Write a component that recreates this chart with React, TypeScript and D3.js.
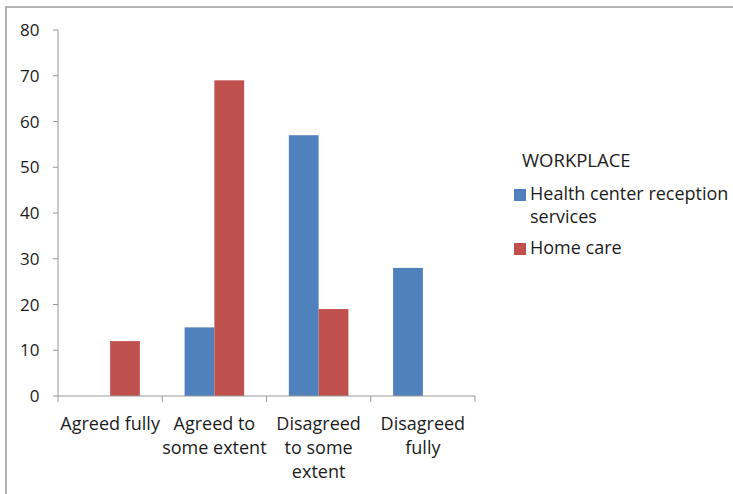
import React from "react";
import * as d3 from "d3";

const categories: string[][] = [
  ["Agreed fully"],
  ["Agreed to", "some extent"],
  ["Disagreed", "to some", "extent"],
  ["Disagreed", "fully"],
];
const legendTitle = "WORKPLACE";
const seriesLabels: string[][] = [["Health center reception", "services"], ["Home care"]];
const healthCenter = [0, 15, 57, 28];
const homeCare = [12, 69, 19, 0];
const yTicks = [0, 10, 20, 30, 40, 50, 60, 70, 80];
const colors = ["#4f81bd", "#c0504d"];

const W = 733;
const H = 494;
const FONT = "'Open Sans', sans-serif";
const TEXT = "#1c1c1c";

export default function App() {
  const x0 = d3
    .scaleBand<number>()
    .domain(d3.range(categories.length))
    .range([58, 475]);
  const bw = x0.bandwidth();
  // two bars per group, gap of 1.5 bar widths between groups
  const barW = bw / 3.5;
  const x1 = d3
    .scaleBand<number>()
    .domain([0, 1])
    .range([bw / 2 - barW, bw / 2 + barW]);
  const y = d3.scaleLinear().domain([0, 80]).range([396, 30]);
  const series = [healthCenter, homeCare];
  const legendY = [200, 254];

  return (
    <div style={{ position: "absolute", left: 0, top: 0 }}>
      <svg width={W} height={H} style={{ display: "block", fontFamily: FONT }}>
        <rect x={0} y={0} width={W} height={H} fill="#fff" />
        <rect x={6} y={7} width={W + 20} height={H + 20} fill="none" stroke="#9a9a9a" strokeWidth={1.5} />
        {/* bars */}
        {series.map((vals, si) =>
          vals.map((v, ci) =>
            v > 0 ? (
              <rect
                key={`${si}-${ci}`}
                x={(x0(ci) as number) + (x1(si) as number)}
                y={y(v)}
                width={x1.bandwidth()}
                height={y(0) - y(v)}
                fill={colors[si]}
              />
            ) : null
          )
        )}
        {/* y axis */}
        <line x1={58} x2={58} y1={y(80)} y2={y(0)} stroke="#999" strokeWidth={1} />
        {yTicks.map((t) => (
          <g key={t}>
            <line x1={53} x2={58} y1={y(t)} y2={y(t)} stroke="#999" />
            <text x={39.5} y={y(t)} dy="0.36em" textAnchor="end" fontSize={17} fill={TEXT}>
              {t}
            </text>
          </g>
        ))}
        {/* x axis */}
        <line x1={58} x2={475} y1={y(0)} y2={y(0)} stroke="#999" />
        {d3.range(categories.length + 1).map((i) => {
          const xx = i < categories.length ? (x0(i) as number) : 475;
          return <line key={i} x1={xx} x2={xx} y1={y(0)} y2={y(0) + 6} stroke="#999" />;
        })}
        {categories.map((lines, ci) => (
          <text key={ci} textAnchor="middle" fontSize={18} fill={TEXT}>
            {lines.map((l, li) => (
              <tspan key={li} x={(x0(ci) as number) + bw / 2} y={430 + li * 24}>
                {l}
              </tspan>
            ))}
          </text>
        ))}
        {/* legend */}
        <text x={522} y={167} fontSize={18.5} fill={TEXT}>
          {legendTitle}
        </text>
        {seriesLabels.map((lines, si) => (
          <g key={si}>
            <rect x={514} y={legendY[si] - 11} width={12} height={12} fill={colors[si]} />
            <text fontSize={18} fill={TEXT}>
              {lines.map((l, li) => (
                <tspan key={li} x={530} y={legendY[si] + li * 23}>
                  {l}
                </tspan>
              ))}
            </text>
          </g>
        ))}
      </svg>
    </div>
  );
}
